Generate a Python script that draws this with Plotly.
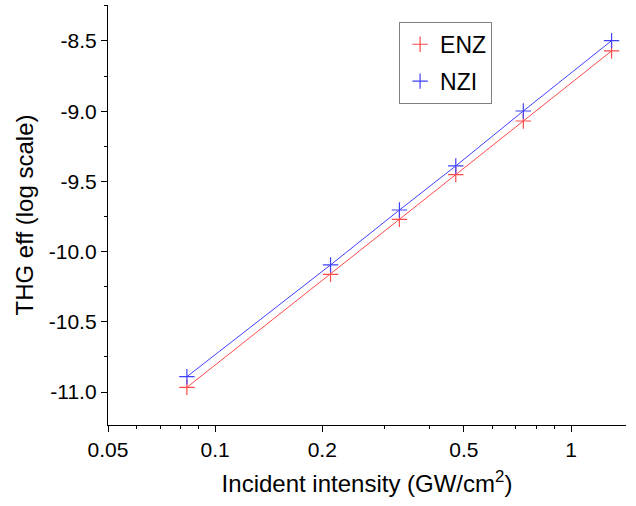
import plotly.graph_objects as go

intensity = [0.0833, 0.211, 0.3295, 0.4745, 0.7345, 1.30]
enz = [-10.967, -10.162, -9.770, -9.452, -9.070, -8.571]
nzi = [-10.891, -10.095, -9.704, -9.390, -8.999, -8.498]

x_ticks = [0.05, 0.1, 0.2, 0.5, 1]
x_tick_labels = ["0.05", "0.1", "0.2", "0.5", "1"]
x_minor = [0.06, 0.07, 0.08, 0.09, 0.3, 0.4, 0.6, 0.7, 0.8, 0.9]
y_ticks = [-11.0, -10.5, -10.0, -9.5, -9.0, -8.5]
y_tick_labels = ["-11.0", "-10.5", "-10.0", "-9.5", "-9.0", "-8.5"]

fig = go.Figure()
series = [("ENZ", enz, "#ff4a4a"), ("NZI", nzi, "#4040ff")]
for name, vals, col in series:
    fig.add_trace(go.Scatter(
        x=intensity, y=vals, mode="lines", showlegend=False,
        line=dict(color=col, width=1), hoverinfo="skip",
    ))
for name, vals, col in series:
    fig.add_trace(go.Scatter(
        x=intensity, y=vals, name=name, mode="markers", legendgroup=name,
        marker=dict(symbol="cross-thin", size=11, line=dict(color=col, width=1.2)),
    ))

font = "Liberation Sans, Arial, sans-serif"
fig.update_layout(
    width=636, height=506,
    margin=dict(l=108, r=10, t=5, b=81),
    paper_bgcolor="white", plot_bgcolor="white",
    font=dict(family=font, color="black", size=22),
    legend=dict(
        x=0.562, y=0.96, xanchor="left", yanchor="top",
        bordercolor="#808080", borderwidth=1, bgcolor="white",
        font=dict(size=23), tracegroupgap=4, traceorder="grouped",
    ),
    xaxis=dict(
        type="log", range=[-1.30103, 0.1545],
        tickvals=x_ticks, ticktext=x_tick_labels,
        ticks="outside", ticklen=6, tickwidth=1, tickcolor="black",
        showline=True, linecolor="black", linewidth=1.3,
        showgrid=False, zeroline=False,
        minor=dict(tickvals=x_minor, ticks="outside", ticklen=3, tickcolor="black", showgrid=False),
        title=dict(text="Incident intensity (GW/cm<sup>2</sup>)", font=dict(size=24), standoff=14),
        tickfont=dict(size=21),
    ),
    yaxis=dict(
        range=[-11.235, -8.244],
        tickvals=y_ticks, ticktext=y_tick_labels,
        ticks="outside", ticklen=6, tickwidth=1, tickcolor="black",
        showline=True, linecolor="black", linewidth=1.3,
        showgrid=False, zeroline=False,
        minor=dict(dtick=0.25, ticks="outside", ticklen=3, tickcolor="black", showgrid=False),
        title=dict(text="THG eff (log scale)", font=dict(size=24), standoff=8),
        tickfont=dict(size=21),
    ),
)

fig.write_html("out.html")
